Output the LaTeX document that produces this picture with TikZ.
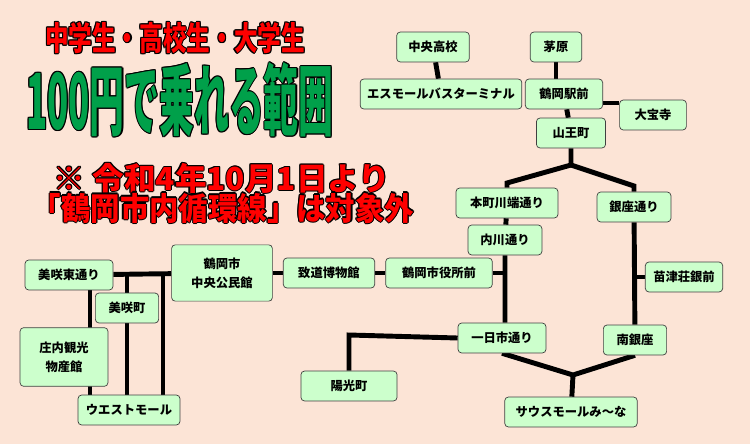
\documentclass[tikz,border=0pt]{standalone}
\usepackage{fontspec}
\setmainfont{Noto Sans CJK JP}
\usetikzlibrary{positioning}
\definecolor{bgpeach}{HTML}{FCE4D6}
\definecolor{stopgreen}{HTML}{CCFFCC}
\definecolor{titlegreen}{HTML}{00A04A}
\definecolor{titlered}{HTML}{FF0000}
\pgfdeclarelayer{bg}
\pgfsetlayers{bg,main}
\tikzset{
  stop/.style={draw=black!75, fill=stopgreen, rounded corners=3pt, line width=0.6pt,
    minimum height=25.5pt, inner xsep=4pt, font=\fontsize{10.5}{13}\selectfont\bfseries},
  route/.style={line width=4.2pt},
}
% outlined title text
\newcommand{\titletext}[4]{%
  \foreach \dx/\dy in {-1/0,1/0,0/-1,0/1,-0.7/-0.7,0.7/0.7,-0.7/0.7,0.7/-0.7}
    \node[text=black, font=#3] at ([shift={(\dx*0.9pt,\dy*0.9pt)}]#1) {#4};
  \node[text=#2, font=#3] at (#1) {#4};
}
\begin{document}
\begin{tikzpicture}[x=0.03cm, y=-0.03cm]
	\begin{pgfonlayer}{bg}
	\fill[bgpeach] (0,0) rectangle (750,444);
	\end{pgfonlayer}
	\useasboundingbox (0,0) rectangle (750,444);
	
	\titletext{175,38}{titlered}{\fontsize{28}{30}\selectfont\bfseries\addfontfeature{FakeStretch=0.72}}{中学生・高校生・大学生}
	\titletext{180,100}{titlegreen}{\fontsize{66}{70}\selectfont\bfseries\addfontfeature{FakeStretch=0.45}}{100円で乗れる範囲}
	\titletext{222,178}{titlered}{\fontsize{27}{30}\selectfont\bfseries}{※ 令和4年10月1日より}
	\titletext{223,208}{titlered}{\fontsize{27}{30}\selectfont\bfseries\addfontfeature{FakeStretch=0.93}}{「鶴岡市内循環線」は対象外}
	
	\node[stop, minimum width=62pt] (chuo) at (433,47) {中央高校};
	\node[stop, minimum width=44pt] (kayahara) at (556,47) {茅原};
	\node[stop, minimum width=138pt] (smallbt) at (441,94) {エスモールバスターミナル};
	\node[stop, minimum width=66pt] (ekimae) at (564,94) {鶴岡駅前};
	\node[stop, minimum width=57pt] (daihoji) at (653,115) {大宝寺};
	\node[stop, minimum width=59pt] (sanno) at (571,133) {山王町};
	\node[stop, minimum width=87pt] (honcho) at (507,203) {本町川端通り};
	\node[stop, minimum width=63pt] (uchikawa) at (505,240) {内川通り};
	\node[stop, minimum width=63pt] (ginza) at (634,207) {銀座通り};
	\node[stop, minimum width=75pt] (misakihigashi) at (69,275) {美咲東通り};
	\node[stop, minimum width=86pt, minimum height=48pt, align=center] (kominkan) at (222,273) {鶴岡市\\[3pt]中央公民館};
	\node[stop, minimum width=78pt] (chido) at (329,273) {致道博物館};
	\node[stop, minimum width=91pt] (shiyakusho) at (439,273) {鶴岡市役所前};
	\node[stop, minimum width=66pt] (naezu) at (684,277) {苗津荘銀前};
	\node[stop, minimum width=54pt] (misaki) at (127,308) {美咲町};
	\node[stop, minimum width=75pt, minimum height=50pt, align=center] (shonai) at (64,357) {庄内観光\\[3pt]物産館};
	\node[stop, minimum width=75pt] (yokaichi) at (502,338) {一日市通り};
	\node[stop, minimum width=54pt] (minamiginza) at (635,340) {南銀座};
	\node[stop, minimum width=82pt] (yokocho) at (349,386) {陽光町};
	\node[stop, minimum width=87pt] (westmall) at (129,410) {ウエストモール};
	\node[stop, minimum width=113pt] (southmall) at (571,412) {サウスモールみ〜な};
	
	\coordinate (apex) at (571,165);
	\coordinate (bottom) at (573,375);
	\coordinate (westjoin) at (163,275);
	\begin{pgfonlayer}{bg}
	\draw[route] (chuo) -- (smallbt);
	\draw[route] (kayahara.south) -- (kayahara.south |- ekimae.north);
	\draw[route] (ekimae) -- (sanno);
	\draw[route] (ekimae.east |- 0,103) -- (daihoji.west |- 0,103);
	\draw[route] (sanno) -- (apex) -- (507,183) -- (honcho);
	\draw[route] (apex) -- (634,186) -- (ginza);
	\draw[route] (honcho) -- (uchikawa) -- (uchikawa |- yokaichi.north);
	\draw[route] (shiyakusho) -- (507,273);
	\draw[route] (ginza) -- (minamiginza);
	\draw[route] (naezu) -- (634,277);
	\draw[route] (yokaichi.west) -- (349,335) -- (yokocho);
	\draw[route] (yokaichi.south) -- (bottom) -- (minamiginza.south);
	\draw[route] (bottom) -- (southmall);
	\draw[route] (chido) -- (shiyakusho);
	\draw[route] (kominkan) -- (chido);
	\draw[route] (misakihigashi) -- (kominkan);
	\draw[route] (90,275) -- (90,410);
	\draw[route] (127,275) -- (westmall.north -| 127,0);
	\draw[route] (westjoin) -- (westmall.north -| westjoin);
	\end{pgfonlayer}
\end{tikzpicture}
\end{document}
